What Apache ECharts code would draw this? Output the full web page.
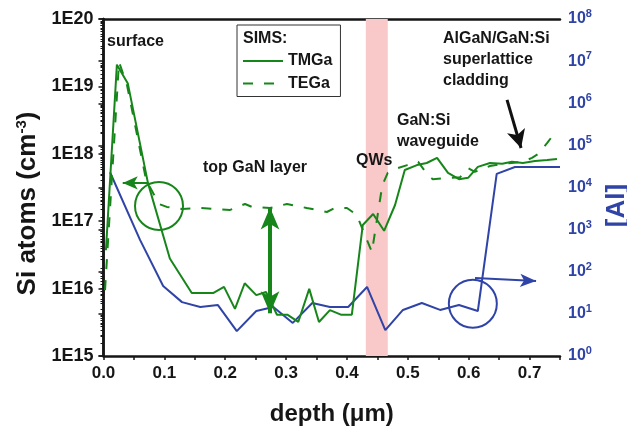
<!DOCTYPE html>
<html><head><meta charset="utf-8">
<script src="https://cdn.jsdelivr.net/npm/echarts@6/dist/echarts.min.js"></script>
<style>html,body{margin:0;padding:0;background:#fff}#c{width:627px;height:428px}</style>
</head><body><div id="c"></div>
<script>
// ---- data ----
const depthTMGa = [0.004,0.022,0.040,0.073,0.109,0.145,0.180,0.198,0.216,0.232,0.251,0.267,0.285,0.302,0.320,0.338,0.354,0.372,0.390,0.408,0.426,0.443,0.461,0.479,0.495,0.515,0.531,0.548,0.566,0.584,0.599,0.615,0.635,0.655,0.671,0.689,0.709,0.729,0.745];
const siTMGa    = [3.7e16,2.1e19,1.1e19,3.7e17,2.8e16,8.6e15,8.6e15,1.06e16,5.0e15,1.2e16,8.0e15,8.9e15,4.1e15,4.1e15,3.2e15,9.9e15,3.2e15,4.8e15,4.1e15,4.1e15,8.8e16,1.28e17,7.2e16,1.74e17,5.75e17,6.8e17,7.3e17,8.7e17,5.2e17,4.2e17,4.4e17,6.4e17,7.3e17,7.1e17,7.6e17,7.3e17,7.8e17,8.1e17,8.4e17];
const depthTEGa = [0.0025,0.0255,0.0386,0.070,0.0912,0.104,0.129,0.159,0.208,0.2325,0.244,0.2735,0.3015,0.334,0.367,0.380,0.400,0.416,0.441,0.458,0.467,0.484,0.499,0.517,0.533,0.541,0.569,0.586,0.599,0.610,0.635,0.655,0.671,0.689,0.704,0.714,0.729,0.745];
const siTEGa    = [9.5e15,2.3e19,1.05e19,4.1e17,1.8e17,1.63e17,1.52e17,1.57e17,1.47e17,1.8e17,1.63e17,1.57e17,1.8e17,1.57e17,1.37e17,1.57e17,1.57e17,1.24e17,3.5e16,3.4e17,5.2e17,6.15e17,6.8e17,7.6e17,4.8e17,4.2e17,4.4e17,4.5e17,6.15e17,5.4e17,6.6e17,7.1e17,7.3e17,7.6e17,8.7e17,9.9e17,1.45e18,2.25e18];
const depthAl   = [0.0107,0.060,0.098,0.129,0.159,0.188,0.219,0.251,0.279,0.311,0.343,0.372,0.402,0.433,0.463,0.492,0.523,0.553,0.584,0.615,0.646,0.676,0.750];
const alCounts  = [2.3e4,570,46,19,14.6,16.2,3.9,11.7,14.6,6.1,18.1,14.6,14.6,43.5,4.1,12.4,18.1,12.4,16.2,11.7,2.1e4,3.07e4,3.07e4];
const qwRange   = [0.431, 0.467];
const leftTickLabels  = ['1E15','1E16','1E17','1E18','1E19','1E20'];
const rightTickExps   = ['0','1','2','3','4','5','6','7','8'];
const seriesNames = ['TMGa','TEGa','[Al]'];

const GREEN = '#17861a', BLUE = '#2f44a6', INK = '#161616';
const FONT = '"Liberation Sans", Arial, sans-serif';

const chart = echarts.init(document.getElementById('c'), null, {renderer:'canvas'});
const axisLine = {show:true, lineStyle:{color:INK, width:2.5}};
const noEmph = {disabled:true};

function txt(x, y, t) {
  return {type:'text', x:x, y:y, z:100, silent:true,
    style:{text:t, fill:INK, font:'bold 16px ' + FONT, verticalAlign:'middle', align:'left'}};
}

const option = {
  animation:false,
  backgroundColor:'#fff',
  textStyle:{fontFamily:FONT},
  grid:{left:103.5, right:67, top:19, bottom:72, outerBoundsMode:'none', containLabel:false},
  legend:{
    data:['TMGa','TEGa'], left:237, top:25, orient:'vertical',
    padding:[28,8,5,5], itemGap:6.5, itemWidth:40, itemHeight:14,
    borderColor:'#333', borderWidth:1, selectedMode:false,
    itemStyle:{color:'rgba(0,0,0,0)', borderWidth:0, opacity:0},
    textStyle:{fontSize:16, fontWeight:'bold', color:INK, fontFamily:FONT}
  },
  xAxis:[{
    type:'value', min:0, max:0.75, interval:0.05, position:'bottom',
    axisLine:axisLine,
    axisTick:{show:true, inside:false, length:4, lineStyle:{color:INK, width:1.5}},
    splitLine:{show:false},
    axisLabel:{fontSize:17, fontWeight:'bold', color:INK, margin:9, fontFamily:FONT,
      formatter:function(v){ const k=Math.round(v*100); return (k%10===0 && k<75) ? (k/100).toFixed(1) : ''; }},
    name:'depth (\u03bcm)', nameLocation:'middle', nameGap:46,
    nameTextStyle:{fontSize:24, fontWeight:'bold', color:INK, fontFamily:FONT}
  },{
    type:'value', min:0, max:0.75, position:'top',
    axisLine:axisLine, axisTick:{show:false}, axisLabel:{show:false}, splitLine:{show:false}
  }],
  yAxis:[{
    type:'log', logBase:10, min:1e15, max:1e20, position:'left',
    axisLine:axisLine,
    axisTick:{show:true, inside:false, length:5, lineStyle:{color:INK, width:1.5}},
    minorTick:{show:true, splitNumber:9, length:3, lineStyle:{color:INK, width:1}},
    splitLine:{show:false}, minorSplitLine:{show:false},
    axisLabel:{fontSize:18, fontWeight:'bold', color:INK, margin:10, fontFamily:FONT,
      formatter:function(v){ const e=Math.round(Math.log10(v)); return leftTickLabels[e-15] || ''; }},
    name:'{a|Si atoms (cm}{s|-3}{a|)}', nameLocation:'middle', nameRotate:90, nameGap:58,
    nameTextStyle:{padding:[0,32,0,0], rich:{
      a:{fontSize:26, fontWeight:'bold', color:INK, fontFamily:FONT},
      s:{fontSize:15, fontWeight:'bold', color:INK, fontFamily:FONT, padding:[0,0,12,0]}
    }}
  },{
    type:'log', logBase:10, min:1, max:1e8, position:'right',
    axisLine:axisLine,
    axisTick:{show:true, inside:true, length:5, lineStyle:{color:INK, width:1.5}},
    minorTick:{show:true, splitNumber:9, length:3, lineStyle:{color:INK, width:1}},
    splitLine:{show:false}, minorSplitLine:{show:false},
    axisLabel:{margin:8, fontFamily:FONT,
      formatter:function(v){ const e=Math.round(Math.log10(v)); return '{a|10}{b|' + rightTickExps[e] + '}'; },
      rich:{
        a:{fontSize:16, fontWeight:'bold', color:BLUE, fontFamily:FONT},
        b:{fontSize:11, fontWeight:'bold', color:BLUE, fontFamily:FONT, padding:[0,0,10,0]}
      }},
    name:'[Al]', nameLocation:'middle', nameRotate:90, nameGap:44,
    nameTextStyle:{fontSize:26, fontWeight:'bold', color:BLUE, fontFamily:FONT, padding:[0,36,0,0]}
  }],
  series:[
    {
      name:'QW', type:'line', data:[], xAxisIndex:0, yAxisIndex:0, z:1, silent:true,
      markArea:{silent:true, itemStyle:{color:'#f9c8c8'},
        data:[[{xAxis:qwRange[0]},{xAxis:qwRange[1]}]]}
    },
    {
      name:seriesNames[0], type:'line', xAxisIndex:0, yAxisIndex:0, z:3, symbol:'none', emphasis:noEmph,
      lineStyle:{color:GREEN, width:2}, itemStyle:{color:GREEN},
      data:depthTMGa.map((d,i)=>[d, siTMGa[i]]),
      markPoint:{silent:true, label:{show:false},
        data:[{coord:[0.0912,1.68e17], symbol:'circle', symbolSize:48,
          itemStyle:{color:'rgba(0,0,0,0)', borderColor:GREEN, borderWidth:2}}]},
      markLine:{silent:true, label:{show:false}, emphasis:noEmph, symbol:['none','arrow'],
        data:[
          [{coord:[0.073,3.7e17], symbol:'none', lineStyle:{color:GREEN, width:2, type:'solid'}},
           {coord:[0.0316,3.7e17], symbol:'arrow', symbolSize:[10,15]}],
          [{coord:[0.2736,1.6e17], symbol:'arrow', symbolSize:[14,22], lineStyle:{color:GREEN, width:4, type:'solid'}},
           {coord:[0.2736,4.3e15], symbol:'arrow', symbolSize:[14,22]}],
          [{coord:[0.663,6.3e18], symbol:'none', lineStyle:{color:'#111', width:3, type:'solid'}},
           {coord:[0.686,1.22e18], symbol:'arrow', symbolSize:[14,18]}]
        ]}
    },
    {
      name:seriesNames[1], type:'line', xAxisIndex:0, yAxisIndex:0, z:3, symbol:'none', emphasis:noEmph,
      lineStyle:{color:GREEN, width:2, type:[10,11]}, itemStyle:{color:GREEN},
      data:depthTEGa.map((d,i)=>[d, siTEGa[i]])
    },
    {
      name:seriesNames[2], type:'line', xAxisIndex:0, yAxisIndex:1, z:2, symbol:'none', emphasis:noEmph,
      lineStyle:{color:BLUE, width:2}, itemStyle:{color:BLUE},
      data:depthAl.map((d,i)=>[d, alCounts[i]]),
      markPoint:{silent:true, label:{show:false},
        data:[{coord:[0.6068,17.4], symbol:'circle', symbolSize:48,
          itemStyle:{color:'rgba(0,0,0,0)', borderColor:BLUE, borderWidth:2}}]},
      markLine:{silent:true, label:{show:false}, emphasis:noEmph, symbol:['none','arrow'],
        data:[
          [{coord:[0.6104,71], symbol:'none', lineStyle:{color:BLUE, width:2, type:'solid'}},
           {coord:[0.7107,60], symbol:'arrow', symbolSize:[10,16]}]
        ]}
    }
  ],
  graphic:[
    txt(243, 39, 'SIMS:'),
    txt(107, 42, 'surface'),
    txt(203, 168, 'top GaN layer'),
    txt(356, 161, 'QWs'),
    txt(397, 121, 'GaN:Si'),
    txt(397, 142, 'waveguide'),
    txt(443, 39, 'AlGaN/GaN:Si'),
    txt(443, 60, 'superlattice'),
    txt(443, 81, 'cladding')
  ]
};
chart.setOption(option);
</script>
</body></html>
